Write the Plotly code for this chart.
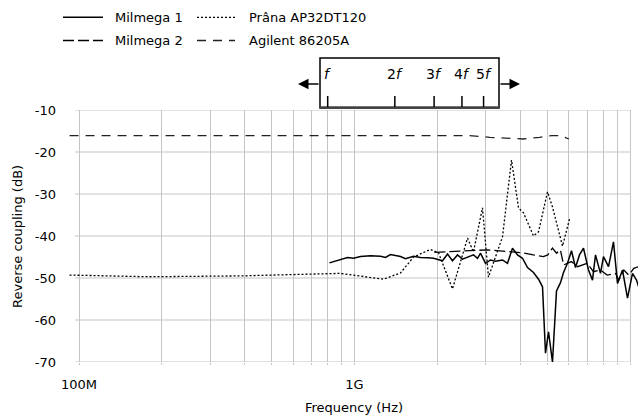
import math
import plotly.graph_objects as go

# ---------------- data (frequency in GHz, coupling in dB) ----------------
m1_freq_ghz = [0.811, 0.890, 0.943, 0.992, 1.051, 1.143, 1.243, 1.296, 1.351, 1.469,
               1.531, 1.638, 1.736, 1.841, 1.936, 2.086, 2.176, 2.268, 2.365, 2.466,
               2.572, 2.703, 2.796, 2.867, 2.989, 3.116, 3.250, 3.445, 3.592, 3.745,
               3.906, 4.072, 4.246, 4.464, 4.655, 4.813, 4.935, 5.061, 5.232, 5.410,
               5.594, 5.736, 5.931, 6.133, 6.341, 6.556, 6.779, 7.069, 7.309, 7.495,
               7.814, 8.012, 8.356, 8.712, 9.008, 9.393, 9.793, 10.21, 10.56, 10.74]
m1_db = [-46.4, -45.7, -45.1, -45.3, -44.9, -44.7, -44.8, -45.1, -44.4, -44.9,
         -45.4, -44.8, -45.1, -45.2, -45.3, -45.9, -44.3, -45.9, -44.5, -45.5,
         -45.0, -44.5, -45.3, -44.1, -46.5, -45.7, -46.0, -45.7, -46.5, -42.9,
         -44.5, -45.3, -47.5, -48.7, -50.3, -52.1, -67.9, -62.8, -70.0, -53.1,
         -51.1, -48.7, -46.5, -43.5, -47.5, -44.5, -42.9, -48.1, -50.5, -44.5,
         -48.9, -44.9, -47.3, -41.4, -51.3, -48.1, -54.8, -48.9, -50.5, -52.0]

m2_freq_ghz = [1.95, 2.57, 3.04, 3.59, 4.07, 4.46, 4.85, 5.03, 5.23, 5.41,
               5.59, 5.74, 5.93, 6.13, 6.45, 6.99, 7.37, 7.81, 8.26, 8.86,
               9.11, 9.50, 9.90, 10.32, 10.74]
m2_db = [-43.9, -43.5, -43.3, -43.7, -44.0, -44.5, -44.9, -44.5, -42.9, -44.1,
         -43.3, -46.9, -46.5, -46.1, -47.3, -46.5, -48.5, -48.1, -49.3, -48.9,
         -50.5, -48.1, -49.3, -47.7, -47.3]

prana_freq_ghz = [0.0924, 0.18, 0.386, 0.637, 0.772, 0.89, 1.274, 1.469, 1.638, 1.888,
                  2.018, 2.194, 2.268, 2.572, 2.703, 2.914, 3.064, 3.445, 3.715, 3.938,
                  4.107, 4.464, 4.655, 5.018, 5.232, 5.689, 6.03]
prana_db = [-49.3, -49.7, -49.5, -49.1, -48.9, -48.9, -50.3, -48.8, -45.0, -43.2,
            -44.0, -50.0, -52.6, -40.5, -43.8, -33.3, -49.8, -40.2, -21.9, -33.3,
            -34.5, -40.0, -39.0, -29.5, -33.1, -42.4, -36.0]

agilent_freq_ghz = [0.0924, 0.2, 0.5, 1.0, 2.0, 2.6, 3.1, 4.1, 4.7, 5.2, 5.6, 6.0]
agilent_db = [-16.1, -16.1, -16.1, -16.1, -16.1, -16.1, -16.5, -16.9, -16.5, -16.1, -16.1, -16.9]

series_names = ["Milmega 1", "Milmega 2", "Prâna AP32DT120", "Agilent 86205A"]

x_major = [1e8, 1e9, 1e10]
x_major_labels = ["100M", "1G", "10G"]
y_ticks = [-70, -60, -50, -40, -30, -20, -10]
y_tick_labels = ["-70", "-60", "-50", "-40", "-30", "-20", "-10"]

harmonics = [1, 2, 3, 4, 5]
harmonic_labels = ["<i>f</i>", "2<i>f</i>", "3<i>f</i>", "4<i>f</i>", "5<i>f</i>"]

# ---------------- layout geometry (pixels) ----------------
W, H = 643, 417
L, R, T, B = 69, 638, 110, 362


def pxx(px):
    return (px - L) / (R - L)


def pxy(py):
    return (B - py) / (B - T)


FONT = "DejaVu Sans"
GRID = "#c4c4c4"

styles = {
    "Milmega 1": dict(color="black", width=1.5, dash="solid"),
    "Milmega 2": dict(color="black", width=1.3, dash="11px,4px"),
    "Prâna AP32DT120": dict(color="black", width=1.3, dash="2px,2px"),
    "Agilent 86205A": dict(color="#222", width=1.3, dash="9px,7px"),
}

fig = go.Figure()
data = {
    "Prâna AP32DT120": (prana_freq_ghz, prana_db),
    "Agilent 86205A": (agilent_freq_ghz, agilent_db),
    "Milmega 2": (m2_freq_ghz, m2_db),
    "Milmega 1": (m1_freq_ghz, m1_db),
}
for name, (fx, fy) in data.items():
    fig.add_trace(go.Scatter(
        x=[f * 1e9 for f in fx], y=fy, mode="lines", name=name,
        line=styles[name], showlegend=False))

# x tick values: all decade multiples (gridlines), labels on decades only
x_tickvals, x_ticktext = [], []
for e in (8, 9):
    for k in range(1, 10):
        v = k * 10 ** e
        x_tickvals.append(v)
        x_ticktext.append(x_major_labels[x_major.index(v)] if v in x_major else "")
x_tickvals.append(1e10)
x_ticktext.append("10G")

left_log = math.log10(1e8) - (79 - L) / 275.5
right_log = math.log10(1e10) + (R - 630) / 275.5

shapes = []
# horizontal grid lines
for v in y_ticks:
    shapes.append(dict(type="line", xref="paper", yref="y", x0=pxx(75), x1=pxx(630),
                       y0=v, y1=v, line=dict(color=GRID, width=1), layer="below"))

# harmonic box
shapes.append(dict(type="rect", xref="paper", yref="paper", x0=pxx(320), x1=pxx(499),
                   y0=pxy(108), y1=pxy(58), line=dict(color="black", width=1.5),
                   fillcolor="white"))
shapes.append(dict(type="line", xref="paper", yref="paper", x0=pxx(320), x1=pxx(499),
                   y0=pxy(107.5), y1=pxy(107.5), line=dict(color="#444", width=2.5)))
annotations = []
for n, lab in zip(harmonics, harmonic_labels):
    xp = 327.7 + 223 * math.log10(n)
    shapes.append(dict(type="line", xref="paper", yref="paper", x0=pxx(xp), x1=pxx(xp),
                       y0=pxy(107), y1=pxy(96), line=dict(color="black", width=1.5)))
    annotations.append(dict(xref="paper", yref="paper", x=pxx(xp), y=pxy(74), text=lab,
                            showarrow=False, xanchor="center", yanchor="middle",
                            font=dict(family=FONT, size=14, color="black")))
# arrows
annotations.append(dict(xref="paper", yref="paper", x=pxx(298), y=pxy(84), ax=22, ay=0,
                        text="", showarrow=True, arrowhead=2, arrowsize=1.4,
                        arrowwidth=1.5, arrowcolor="black"))
annotations.append(dict(xref="paper", yref="paper", x=pxx(520), y=pxy(84), ax=-21, ay=0,
                        text="", showarrow=True, arrowhead=2, arrowsize=1.4,
                        arrowwidth=1.5, arrowcolor="black"))

# manual legend
legend_items = [
    ("Milmega 1", 63, 103, 113, 17.3),
    ("Prâna AP32DT120", 197, 235, 247, 17.3),
    ("Milmega 2", 63, 103, 113, 40.5),
    ("Agilent 86205A", 197, 235, 247, 40.5),
]
for name, x0, x1, xt, yy in legend_items:
    st = styles[name]
    shapes.append(dict(type="line", xref="paper", yref="paper", x0=pxx(x0), x1=pxx(x1),
                       y0=pxy(yy), y1=pxy(yy),
                       line=dict(color=st["color"], width=st["width"], dash=st["dash"])))
    annotations.append(dict(xref="paper", yref="paper", x=pxx(xt), y=pxy(yy), text=name,
                            showarrow=False, xanchor="left", yanchor="middle",
                            font=dict(family=FONT, size=13, color="black")))

# axis titles
annotations.append(dict(xref="paper", yref="paper", x=pxx(354), y=pxy(407),
                        text="Frequency (Hz)", showarrow=False, xanchor="center",
                        yanchor="middle", font=dict(family=FONT, size=13, color="black")))
annotations.append(dict(xref="paper", yref="paper", x=pxx(17), y=pxy(236),
                        text="Reverse coupling (dB)", showarrow=False, textangle=-90,
                        xanchor="center", yanchor="middle",
                        font=dict(family=FONT, size=13, color="black")))

fig.update_layout(
    width=W, height=H,
    margin=dict(l=L, r=W - R, t=T, b=H - B, pad=0),
    paper_bgcolor="white", plot_bgcolor="white",
    font=dict(family=FONT, size=13, color="black"),
    showlegend=False,
    shapes=shapes, annotations=annotations,
    xaxis=dict(type="log", range=[left_log, right_log], tickvals=x_tickvals,
               ticktext=x_ticktext, showgrid=True, gridcolor=GRID, gridwidth=1,
               ticks="outside", ticklen=2, tickcolor=GRID, zeroline=False,
               showline=False, ticklabelstandoff=8,
               tickfont=dict(family=FONT, size=13, color="black")),
    yaxis=dict(range=[-70, -10], tickvals=y_ticks, ticktext=y_tick_labels,
               showgrid=False, zeroline=False, showline=False, ticks="",
               ticklabelstandoff=12,
               tickfont=dict(family=FONT, size=13, color="black")),
)

fig.write_html("out.html", config={"displayModeBar": False},
               post_script="document.body.style.margin='0';document.body.style.padding='0';")
